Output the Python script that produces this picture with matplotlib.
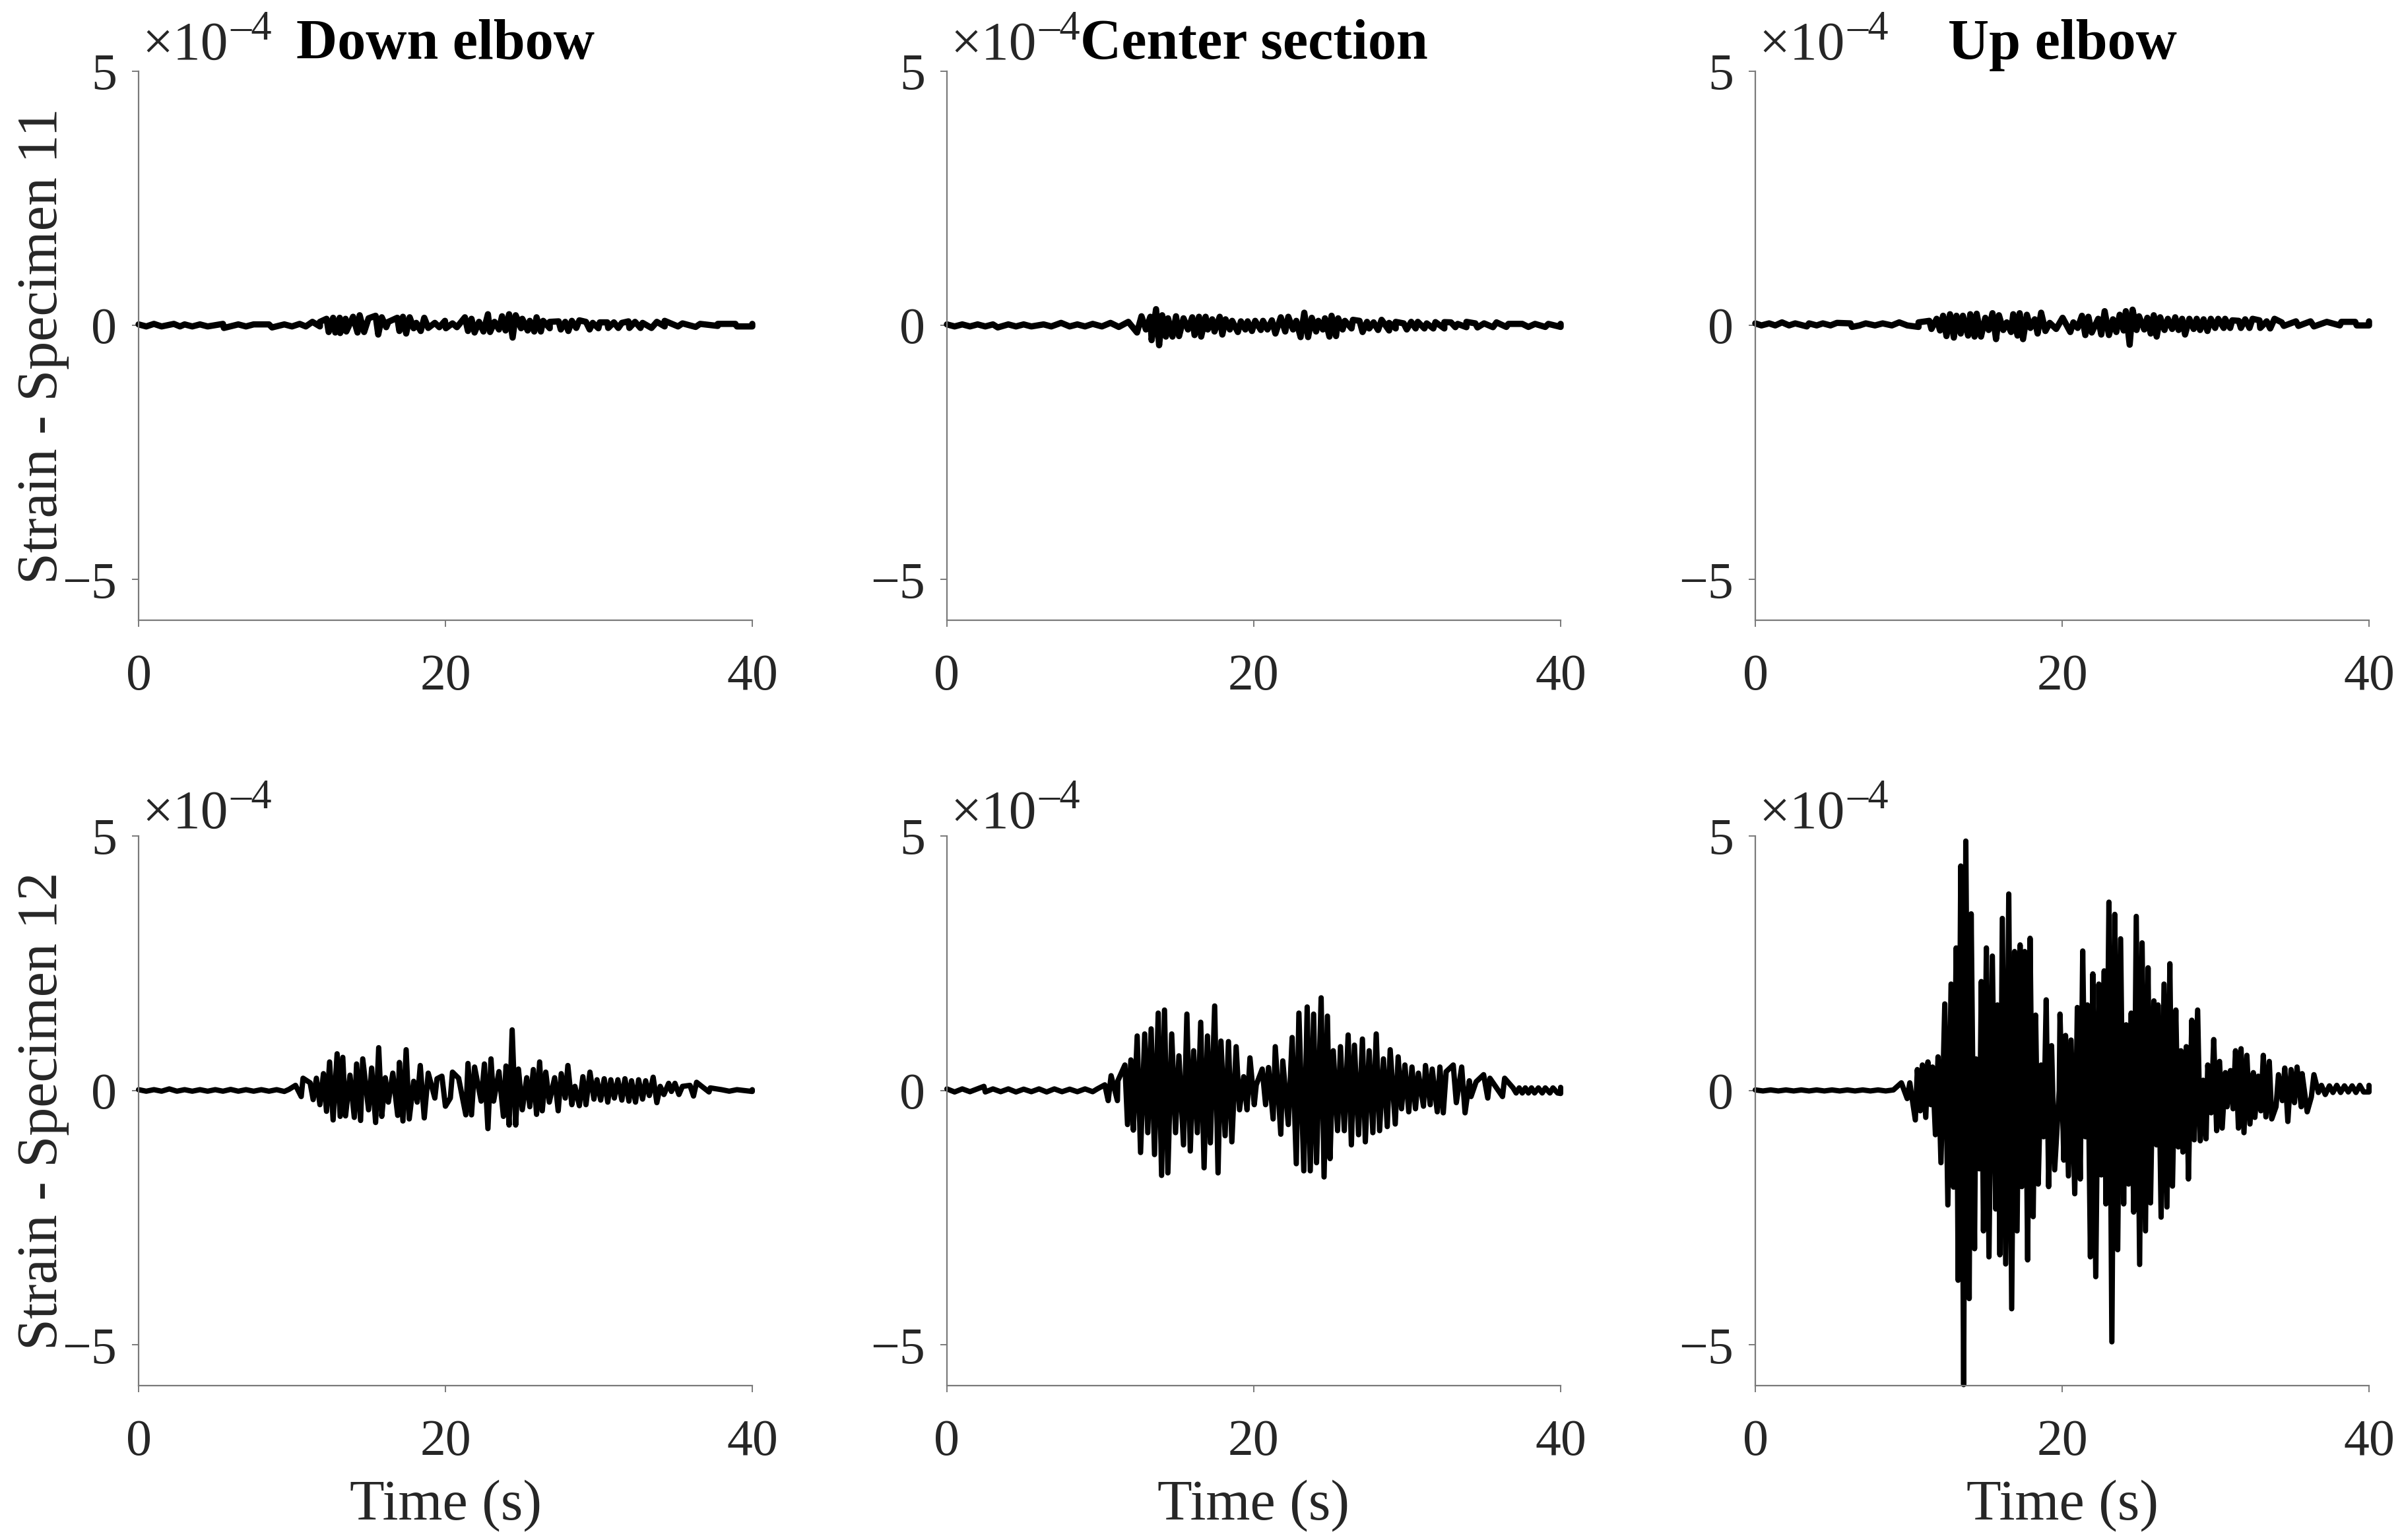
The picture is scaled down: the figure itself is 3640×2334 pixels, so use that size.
import matplotlib
matplotlib.use("Agg")
import matplotlib.pyplot as plt
import numpy as np

plt.rcParams["font.family"] = ["Liberation Serif", "DejaVu Serif"]

# peaks: (time in s, strain in 1e-4)
s11_down_hi = [(0, .02), (1, .03), (2.3, .03), (3, .02), (4, .02), (5.5, .03), (6.5, .02), (7.5, .02), (8.5, .02), (9.5, .02),
               (10.5, .03), (11.33, .07), (11.82, .07), (12.25, .13), (12.68, .15), (13.11, .15), (13.49, .13), (13.98, .17),
               (14.41, .20), (14.99, .14), (15.45, .19), (15.85, .16), (16.28, .07), (16.86, .15), (17.23, .17), (17.67, .16),
               (18.1, .05), (18.62, .15), (19.31, .05), (19.97, .09), (20.46, .04), (21.27, .16), (21.7, .13), (22.19, .07),
               (22.77, .22), (23.2, .07), (23.69, .18), (24.15, .22), (24.58, .20), (25.01, .13), (25.5, .09), (25.94, .16),
               (26.37, .09), (26.8, .07), (27.38, .08), (27.81, .07), (28.24, .09), (28.73, .10), (29.16, .07), (29.6, .05),
               (30.06, .06), (30.55, .06), (30.98, .06), (31.5, .05), (31.93, .08), (32.36, .07), (32.85, .05), (33.78, .07),
               (34.29, .09), (35.45, .04), (36.6, .03), (37.75, .03), (38.9, .03), (40, .03)]
s11_down_lo = [(.5, -.02), (1.5, -.02), (2.7, -.02), (3.5, -.02), (4.5, -.02), (5.56, -.05), (7, -.02), (8.7, -.04), (10, -.02),
               (10.9, -.02), (11.82, -.02), (12.39, -.13), (12.82, -.14), (13.14, -.15), (13.54, -.12), (14.27, -.14), (14.7, -.13),
               (15.62, -.18), (16.14, -.035), (17.0, -.11), (17.44, -.16), (17.93, -.056), (18.39, -.11), (18.88, -.05), (19.6, -.035),
               (20.03, -.056), (20.75, -.035), (21.47, -.11), (21.9, -.14), (22.48, -.12), (22.91, -.13), (23.49, -.08), (23.92, -.10),
               (24.38, -.24), (24.93, -.056), (25.36, -.10), (25.79, -.12), (26.22, -.12), (26.8, -.056), (27.52, -.08), (28.01, -.11),
               (28.53, -.05), (29.4, -.08), (29.97, -.056), (30.61, -.05), (31.27, -.05), (31.99, -.05), (32.71, -.05), (33.43, -.05),
               (34.29, -.02), (35.16, -.02), (36.31, -.03), (37.75, -.01), (39, -.02), (40, -.02)]

s11_center_hi = [(0, .02), (1, .02), (2, .02), (3, .02), (4, .02), (5, .02), (6.3, .02), (7.44, .05), (8.5, .02), (9.5, .03),
                 (10.66, .05), (11.82, .07), (12.68, .18), (13.26, .17), (13.63, .32), (14.03, .20), (14.41, .14), (14.93, .18),
                 (15.42, .14), (15.99, .16), (16.43, .17), (16.86, .17), (17.29, .12), (17.78, .17), (18.16, .12), (18.59, .09),
                 (19.16, .08), (19.6, .08), (20.09, .09), (20.6, .09), (21.18, .10), (21.76, .16), (22.25, .17), (22.77, .09),
                 (23.29, .25), (23.78, .15), (24.21, .09), (24.64, .14), (25.07, .19), (25.5, .14), (25.94, .09), (26.46, .11),
                 (26.89, .09), (27.38, .07), (27.81, .06), (28.33, .11), (28.82, .05), (29.25, .07), (29.77, .04), (30.26, .07),
                 (30.69, .07), (31.27, .04), (31.84, .065), (32.42, .065), (32.85, .06), (33.29, .03), (33.86, .07), (34.44, .04),
                 (35.01, .04), (35.82, .06), (36.6, .03), (37.5, .03), (38.33, .03), (39.2, .03), (40, .03)]
s11_center_lo = [(.5, -.02), (1.5, -.02), (2.5, -.02), (3.31, -.04), (4.5, -.02), (5.5, -.02), (6.8, -.02), (8, -.02), (9, -.02),
                 (10.1, -.02), (11.2, -.03), (12.39, -.14), (12.97, -.08), (13.34, -.29), (13.83, -.39), (14.27, -.22), (14.7, -.22),
                 (15.13, -.21), (15.71, -.08), (16.14, -.19), (16.57, -.22), (17.0, -.08), (17.44, -.12), (17.95, -.18), (18.44, -.08),
                 (18.96, -.13), (19.45, -.08), (19.88, -.11), (20.46, -.09), (20.89, -.08), (21.41, -.16), (22.05, -.12), (22.56, -.08),
                 (23.05, -.23), (23.54, -.23), (24.06, -.12), (24.5, -.08), (24.93, -.22), (25.36, -.21), (25.79, -.08), (26.37, -.06),
                 (27.09, -.13), (27.52, -.06), (28.1, -.09), (28.82, -.10), (29.25, -.06), (29.97, -.08), (30.55, -.06), (31.12, -.06),
                 (31.7, -.06), (32.42, -.06), (33.14, -.035), (33.86, -.035), (34.58, -.04), (35.59, -.035), (36.46, -.03),
                 (37.9, -.03), (39, -.03), (40, -.03)]

s11_up_hi = [(0, .04), (.9, .04), (1.74, .06), (2.6, .04), (3.5, .04), (4.4, .04), (5.32, .05), (6.2, .04), (7.2, .04), (8.3, .04),
             (9.38, .06), (10.64, .06), (11.34, .09), (11.82, .13), (12.24, .19), (12.69, .22), (13.11, .19), (13.53, .19),
             (14.01, .22), (14.43, .23), (14.99, .15), (15.46, .24), (15.88, .20), (16.39, .06), (16.81, .22), (17.23, .24),
             (17.7, .21), (18.21, .12), (18.63, .25), (19.19, .05), (20.03, .15), (20.73, .06), (21.29, .19), (21.71, .17),
             (22.35, .13), (22.77, .28), (23.31, .12), (23.75, .21), (24.15, .28), (24.59, .31), (25.01, .18), (25.55, .15),
             (25.97, .20), (26.39, .16), (26.89, .13), (27.37, .16), (27.82, .13), (28.29, .13), (28.77, .13), (29.22, .12),
             (29.69, .13), (30.17, .13), (30.62, .13), (31.09, .10), (31.51, .09), (31.93, .12), (32.41, .13), (32.86, .10),
             (33.33, .08), (33.84, .13), (34.31, .06), (35.24, .08), (36.19, .08), (37.25, .07), (38.2, .07), (39.1, .07), (40, .08)]
s11_up_lo = [(.4, 0), (1.3, 0), (2.2, 0), (3.36, -.02), (4, 0), (4.9, 0), (6.3, -.03), (6.8, 0), (7.8, 0), (8.9, 0),
             (9.9, 0), (10.64, -.03), (11.48, -.07), (12.04, -.10), (12.46, -.21), (12.94, -.24), (13.39, -.16), (13.87, -.20),
             (14.29, -.22), (14.71, -.22), (15.21, -.09), (15.69, -.27), (16.16, -.09), (16.67, -.13), (17.09, -.20), (17.45, -.27),
             (17.93, -.05), (18.4, -.16), (18.91, -.11), (19.61, -.07), (20.53, -.13), (21.01, -.05), (21.51, -.19), (21.93, -.14),
             (22.55, -.18), (23.05, -.19), (23.53, -.13), (24.01, -.10), (24.4, -.38), (24.85, -.09), (25.35, -.08), (25.77, -.16),
             (26.16, -.22), (26.67, -.09), (27.17, -.07), (27.59, -.09), (28.01, -.18), (28.57, -.07), (28.99, -.09), (29.47, -.11),
             (29.97, -.05), (30.53, -.05), (30.95, -.05), (31.65, -.05), (32.21, -.05), (32.91, -.05), (33.56, -.06), (34.45, -.01),
             (35.4, -.01), (36.41, -.02), (38.1, 0), (39.2, 0), (40, 0)]

s12_down_hi = [(0, .015), (1, .015), (2, .03), (3, .015), (4, .015), (5, .015), (6, .02), (7, .015), (8, .015), (9, .015), (9.8, .02),
               (10.23, .10), (10.72, .24), (11.18, .15), (11.59, .24), (12.05, .33), (12.45, .56), (12.94, .72), (13.31, .65),
               (13.78, .30), (14.21, .52), (14.61, .62), (15.19, .44), (15.65, .84), (16.08, .25), (16.57, .34), (17.0, .55),
               (17.44, .80), (17.93, .18), (18.36, .49), (18.88, .34), (19.45, .23), (19.77, .28), (20.46, .36), (20.86, .24),
               (21.47, .53), (21.90, .46), (22.54, .52), (22.97, .62), (23.49, .37), (23.95, .48), (24.35, 1.19), (24.76, .42),
               (25.30, .25), (25.73, .41), (26.14, .56), (26.54, .36), (27.12, .25), (27.55, .33), (27.98, .49), (28.44, .08),
               (28.96, .27), (29.42, .36), (29.88, .21), (30.35, .23), (30.78, .21), (31.24, .21), (31.70, .23), (32.13, .19),
               (32.59, .21), (33.05, .19), (33.54, .26), (34.0, .08), (34.55, .14), (34.96, .14), (35.45, .08), (35.94, .10),
               (36.37, .16), (37.26, .05), (38, .015), (39, .015), (40, .015)]
s12_down_lo = [(.5, -.015), (1.5, -.015), (2.5, -.015), (3.5, -.015), (4.5, -.015), (5.5, -.015), (6.5, -.015), (7.5, -.015), (8.5, -.015), (9.5, -.02),
               (10.6, -.12), (11.38, -.18), (11.82, -.28), (12.25, -.41), (12.68, -.58), (13.14, -.51), (13.49, -.50), (14.06, -.53),
               (14.47, -.59), (14.99, -.38), (15.45, -.63), (15.85, -.51), (16.28, -.23), (16.89, -.49), (17.23, -.60), (17.64, -.56),
               (18.16, -.23), (18.62, -.54), (19.31, -.15), (20.0, -.31), (20.32, -.15), (21.33, -.48), (21.7, -.48), (22.33, -.21),
               (22.77, -.75), (23.14, -.21), (23.78, -.51), (24.15, -.68), (24.58, -.68), (25.01, -.38), (25.5, -.32), (25.94, -.47),
               (26.31, -.40), (26.77, -.23), (27.35, -.40), (27.81, -.15), (28.24, -.28), (28.73, -.30), (29.16, -.28), (29.68, -.17),
               (30.12, -.19), (30.58, -.23), (31.01, -.15), (31.5, -.19), (31.96, -.21), (32.39, -.23), (32.85, -.17), (33.29, -.10),
               (33.78, -.24), (34.24, -.08), (34.73, -.02), (35.22, -.08), (36.17, -.11), (37.18, -.03), (38.5, -.015), (40, -.02)]

s12_center_hi = [(0, .03), (1, .03), (2.41, .08), (3, .03), (4, .03), (5, .025), (6, .03), (7, .03), (8, .025), (9, .03), (9.8, .03),
                 (10.29, .11), (10.70, .29), (11.14, .19), (11.60, .50), (11.99, .60), (12.40, 1.07), (12.89, 1.11), (13.31, 1.21),
                 (13.77, 1.52), (14.18, 1.58), (14.65, 1.11), (15.12, .68), (15.64, 1.50), (16.08, .78), (16.54, 1.34), (16.98, 1.07),
                 (17.45, 1.66), (17.86, .97), (18.35, .96), (18.85, .86), (19.34, .27), (19.75, .64), (20.16, .11), (20.55, .42),
                 (20.96, .45), (21.40, .86), (21.89, .58), (22.50, 1.04), (22.94, 1.52), (23.48, 1.64), (23.90, 1.50), (24.39, 1.82),
                 (24.80, 1.46), (25.18, .78), (25.65, .86), (26.15, 1.09), (26.56, .89), (27.08, 1.01), (27.52, .78), (27.98, 1.11),
                 (28.45, .62), (28.89, .80), (29.41, .66), (29.85, .50), (30.31, .46), (30.73, .34), (31.19, .49), (31.63, .42),
                 (32.13, .46), (32.54, .37), (33.0, .50), (33.55, .46), (34.05, .19), (34.49, .17), (34.98, .31), (35.39, .24),
                 (36.35, .24), (36.9, .05), (37.3, .05), (37.7, .05), (38.1, .05), (38.55, .05), (39, .05), (39.5, .05), (40, .06)]
s12_center_lo = [(.5, -.03), (1.5, -.025), (2.5, -.03), (3.5, -.025), (4.5, -.03), (5.5, -.025), (6.5, -.03), (7.5, -.025), (8.5, -.025), (9.5, -.025),
                 (10.51, -.20), (11.11, -.20), (11.77, -.67), (12.15, -.78), (12.62, -1.22), (13.09, -.83), (13.53, -1.26), (13.99, -1.67),
                 (14.40, -1.62), (14.90, -.83), (15.42, -1.07), (15.86, -1.19), (16.32, -.83), (16.76, -1.52), (17.17, -1.03), (17.67, -1.62),
                 (18.13, -.89), (18.57, -1.01), (19.07, -.38), (19.56, -.38), (20.03, -.28), (20.77, -.28), (21.26, -.56), (21.76, -.86),
                 (22.25, -.67), (22.77, -1.44), (23.26, -1.58), (23.68, -1.58), (24.09, -1.42), (24.58, -1.70), (24.97, -1.34), (25.46, -.79),
                 (25.90, -.79), (26.36, -1.07), (26.83, -.87), (27.27, -1.01), (27.76, -.83), (28.20, -.79), (28.70, -.71), (29.22, -.66),
                 (29.63, -.36), (30.10, -.42), (30.54, -.36), (31.06, -.31), (31.50, -.28), (31.96, -.42), (32.35, -.44), (33.20, -.24),
                 (33.77, -.44), (34.16, -.12), (35.25, -.15), (36.21, -.12), (37.1, -.05), (37.5, -.05), (37.9, -.05), (38.3, -.05),
                 (38.8, -.05), (39.3, -.05), (39.8, -.05), (40, -.06)]

s12_up_hi = [(0, .01), (1, .01), (2, .01), (3, .01), (4, .01), (5, .01), (6, .01), (7, .01), (8, .01), (9, .01),
             (9.52, .15), (10.07, .15), (10.56, .41), (10.89, .50), (11.25, .56), (11.55, .46), (11.91, .66), (12.35, 1.70),
             (12.76, 2.09), (13.09, 2.80), (13.39, 4.41), (13.72, 4.90), (14.07, 3.47), (14.38, .62), (14.73, 2.14), (15.06, 2.80),
             (15.45, 2.64), (15.78, 1.68), (16.10, 3.38), (16.52, 3.86), (16.90, 2.73), (17.26, 2.86), (17.56, 2.73), (17.91, 2.99),
             (18.27, 1.48), (18.63, .50), (18.96, 1.78), (19.31, .88), (19.86, 1.50), (20.22, 1.08), (20.58, .99), (20.99, 1.63),
             (21.34, 2.74), (21.65, 1.68), (22.0, 2.29), (22.39, 2.09), (22.74, 2.35), (23.05, 3.70), (23.43, 3.46), (23.81, 2.98),
             (24.17, 1.29), (24.50, 1.52), (24.83, 3.42), (25.21, 2.90), (25.60, 2.41), (25.98, 1.76), (26.25, 1.68), (26.64, 2.09),
             (27.02, 2.49), (27.41, 1.58), (27.74, .78), (28.09, .86), (28.45, 1.38), (28.83, 1.58), (29.19, .2), (29.49, .50),
             (29.88, 1.00), (30.26, .57), (30.64, .35), (30.97, .39), (31.30, .78), (31.66, .82), (32.04, .69), (32.46, .35),
             (32.78, .28), (33.11, .69), (33.50, .57), (34.10, .31), (34.51, .44), (34.92, .41), (35.31, .46), (35.64, .33),
             (36.41, .31), (36.9, .10), (37.42, .09), (37.9, .10), (38.4, .09), (38.9, .09), (39.4, .10), (40, .10)]
s12_up_lo = [(.5, -.01), (1.5, -.01), (2.5, -.01), (3.5, -.01), (4.5, -.01), (5.5, -.01), (6.5, -.01), (7.5, -.01), (8.5, -.01),
             (9.90, -.16), (10.43, -.58), (10.75, -.40), (11.11, -.53), (11.44, -.28), (11.74, -.87), (12.10, -1.42), (12.55, -2.25),
             (12.92, -1.9), (13.22, -3.73), (13.58, -5.78), (13.94, -4.09), (14.29, -3.11), (14.60, -1.54), (14.87, -2.76), (15.23, -3.27), (15.67, -2.33),
             (15.94, -3.23), (16.32, -3.41), (16.71, -4.29), (17.06, -2.76), (17.37, -1.89), (17.75, -3.33), (18.11, -2.48), (18.44, -1.84),
             (18.79, -.91), (19.12, -1.89), (19.51, -1.56), (19.81, 0), (20.11, -1.37), (20.41, -1.68), (20.82, -2.03), (21.18, -1.74),
             (21.51, -.91), (21.84, -3.27), (22.19, -3.66), (22.55, -1.66), (22.85, -2.23), (23.24, -4.94), (23.62, -3.13), (24.01, -2.23),
             (24.33, -1.84), (24.66, -2.39), (25.05, -3.42), (25.43, -2.76), (25.76, -2.21), (26.15, -1.07), (26.45, -2.49), (26.83, -2.29),
             (27.19, -1.88), (27.57, -1.11), (27.87, -1.21), (28.23, -1.74), (28.61, -.97), (29.0, -.99), (29.38, -.95), (29.71, -.44),
             (30.07, -.79), (30.43, -.74), (30.75, -.32), (31.14, -.36), (31.49, -.74), (31.85, -.83), (32.24, -.66), (32.56, -.53),
             (32.95, -.40), (33.28, -.52), (33.66, -.56), (33.94, -.32), (34.35, -.20), (34.71, -.61), (35.14, -.24), (35.58, -.32),
             (35.97, -.42), (36.24, -.13), (36.7, -.04), (37.15, -.08), (37.65, -.04), (38.15, -.04), (38.65, -.03), (39.15, -.04),
             (39.65, -.03), (40, -.03)]

panels = [
    [(s11_down_hi, s11_down_lo), (s11_center_hi, s11_center_lo), (s11_up_hi, s11_up_lo)],
    [(s12_down_hi, s12_down_lo), (s12_center_hi, s12_center_lo), (s12_up_hi, s12_up_lo)],
]
titles = ["Down elbow", "Center section", "Up elbow"]
row_labels = ["Strain - Specimen 11", "Strain - Specimen 12"]
x_ticks = [0, 20, 40]
y_ticks = [-5, 0, 5]

W, H = 3640, 2334
col_left = [210, 1435, 2660]
row_top = [108, 1267]
row_bottom = [940, 2100]
row_lw = [6.8, 5.8]
exp_shift = [0, -0.007]
ax_w = 930

GREY = "#7a7a7a"
TEXT = "#262626"

fig = plt.figure(figsize=(W / 100, H / 100), dpi=100, facecolor="white")

for r in range(2):
    for c in range(3):
        ax = fig.add_axes([col_left[c] / W, 1 - row_bottom[r] / H, ax_w / W, (row_bottom[r] - row_top[r]) / H])
        hi, lo = panels[r][c]
        pts = np.array(sorted(hi + lo))
        ax.plot(pts[:, 0], pts[:, 1], color="black", lw=row_lw[r], solid_joinstyle="round", solid_capstyle="round", clip_on=False)

        ax.set_xlim(0, 40)
        ax.set_ylim(-5.8, 5)
        ax.set_xticks(x_ticks)
        ax.set_yticks(y_ticks)
        ax.tick_params(axis="x", length=7.5, width=1.4, color=GREY, labelcolor=TEXT, labelsize=56, pad=29)
        ax.tick_params(axis="y", length=7.5, width=1.4, color=GREY, labelcolor=TEXT, labelsize=56, pad=16)
        ax.spines["top"].set_visible(False)
        ax.spines["right"].set_visible(False)
        ax.spines["left"].set_color(GREY)
        ax.spines["bottom"].set_color(GREY)
        ax.spines["left"].set_linewidth(1.6)
        ax.spines["bottom"].set_linewidth(1.6)

        # exponent is two texts, its digits are larger than a mathtext superscript
        ax.text(0.006, 1.022 + exp_shift[r], "\u00d710", transform=ax.transAxes, fontsize=60, color=TEXT, ha="left", va="baseline")
        ax.text(0.150, 1.058 + exp_shift[r], "\u20134", transform=ax.transAxes, fontsize=45, color=TEXT, ha="left", va="baseline")

        if r == 0:
            ax.set_title(titles[c], fontsize=62, fontweight="bold", color="black", pad=14)
        else:
            ax.set_xlabel("Time (s)", fontsize=62, color=TEXT)
            ax.xaxis.set_label_coords(0.5, -0.17)
        if c == 0:
            ax.set_ylabel(row_labels[r], fontsize=62, color=TEXT)
            ax.yaxis.set_label_coords(-0.113, 0.5)

fig.savefig("out.png", dpi=100)
